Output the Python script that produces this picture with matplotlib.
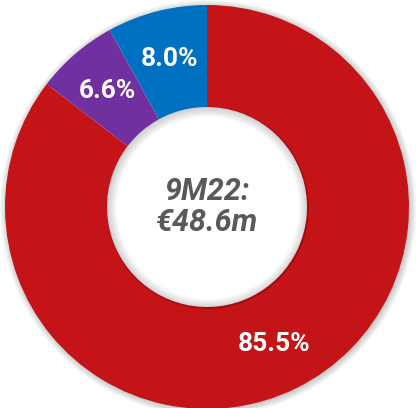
import matplotlib.pyplot as plt
from matplotlib.patches import Wedge

# data
SEGMENTS = ['Red', 'Purple', 'Blue']
SHARES = [85.5, 6.6, 8.0]
COLORS = ['#C41418', '#7030A0', '#0070C0']
CENTER_TEXT = '9M22:\n€48.6m'

plt.rcParams['font.family'] = ['Roboto', 'DejaVu Sans']


def main():
    fig = plt.figure(figsize=(4.16, 4.08), dpi=100)
    ax = fig.add_axes([0, 0, 1, 1])

    # soft shadow around the ring and inside the hole
    for i in range(6):
        ax.add_patch(Wedge((0.006, -0.006), 1.0 + 0.006 * i, 0, 360, width=0.02 + 0.006 * i,
                           color='#000000', alpha=0.035, lw=0, zorder=0))
        ax.add_patch(Wedge((0.004, -0.004), 0.5, 0, 360, width=0.008 * (i + 1),
                           color='#000000', alpha=0.03, lw=0, zorder=3))

    wedges, texts, autotexts = ax.pie(
        SHARES, colors=COLORS, startangle=90, counterclock=False, radius=1,
        autopct=lambda p: '', pctdistance=0.755,
        wedgeprops=dict(width=0.505, linewidth=0))
    for w in wedges:
        w.set_zorder(2)

    for at, v in zip(autotexts, SHARES):
        at.set_text(f'{v:.1f}%')
        at.set_color('white')
        at.set_fontsize(19)
        at.set_fontweight('bold')
        at.set_zorder(5)

    ax.text(0, 0.0, CENTER_TEXT, ha='center', va='center', fontsize=22,
            fontweight='bold', fontstyle='italic', color='#595959',
            linespacing=1.1, zorder=5)

    # place the ring like the reference (set after pie, which resets limits)
    ax.set_xlim(-207 / 202, 209 / 202)
    ax.set_ylim(-201 / 202, 207 / 202)
    ax.set_aspect('equal')
    ax.axis('off')

    fig.savefig('out.png', dpi=100)


if __name__ == '__main__':
    main()
